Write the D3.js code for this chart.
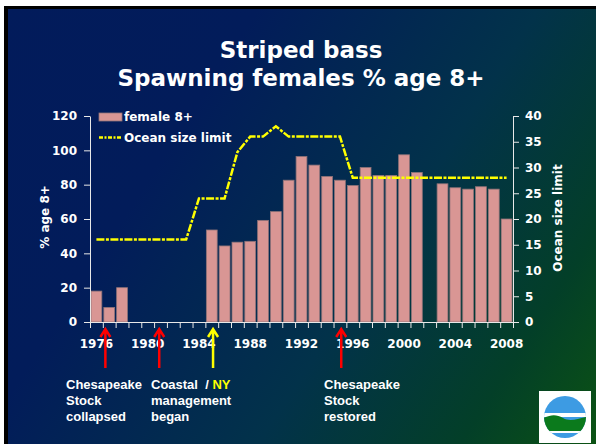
<!DOCTYPE html>
<html>
<head>
<meta charset="utf-8">
<script src="https://cdn.jsdelivr.net/npm/d3@7"></script>
<style>
  body { margin: 0; background: #fff; }
  svg { display: block; }
</style>
</head>
<body>
<div id="chart"></div>
<script>
// categories: one per year
var years = [1976, 1977, 1978, 1979, 1980, 1981, 1982, 1983, 1984, 1985, 1986,
             1987, 1988, 1989, 1990, 1991, 1992, 1993, 1994, 1995, 1996, 1997,
             1998, 1999, 2000, 2001, 2002, 2003, 2004, 2005, 2006, 2007, 2008];

// % of spawning females aged 8+ (null = no survey)
var female8 = [18, 8.5, 20, null, null, null, null, null, null, 53.6, 44.3,
               46.5, 47, 59.2, 64.3, 82.6, 96.4, 91.4, 84.8, 82.6, 79.5, 90,
               85.4, 85.4, 97.4, 87.1, null, 80.5, 78.2, 77.4, 78.8, 77.4, 60];

// ocean minimum size limit (inches)
var sizeLimit = [16, 16, 16, 16, 16, 16, 16, 16, 24, 24, 24,
                 33, 36, 36, 38, 36, 36, 36, 36, 36, 28, 28,
                 28, 28, 28, 28, 28, 28, 28, 28, 28, 28, 28];

var yearLabels = [1976, 1980, 1984, 1988, 1992, 1996, 2000, 2004, 2008];
var leftTicks = [0, 20, 40, 60, 80, 100, 120];
var rightTicks = [0, 5, 10, 15, 20, 25, 30, 35, 40];

// annotation arrows (fractional year position along the axis)
var arrowYears = [1977.2, 1981.4, 1985.6, 1995.6];
var arrowKinds = ["red", "red", "yellow", "red"];
var noteCollapsed = ["Chesapeake", "Stock", "collapsed"];
var noteCoastal = ["Coastal\u00a0\u00a0/ ", "management", "began"];
var noteRestored = ["Chesapeake", "Stock", "restored"];

(function () {
    var width = 596,
        height = 444;

    var svg = d3.select("#chart")
        .append("svg")
        .attr("width", width)
        .attr("height", height);

    var defs = svg.append("defs");
    var grad = defs.append("linearGradient")
        .attr("id", "bg")
        .attr("gradientUnits", "userSpaceOnUse")
        .attr("x1", 0).attr("y1", 0)
        .attr("x2", 620).attr("y2", 400);
    grad.append("stop").attr("offset", 0).attr("stop-color", "#021b5b");
    grad.append("stop").attr("offset", 0.3).attr("stop-color", "#021c5a");
    grad.append("stop").attr("offset", 0.62).attr("stop-color", "#02324a");
    grad.append("stop").attr("offset", 0.85).attr("stop-color", "#033f28");
    grad.append("stop").attr("offset", 1).attr("stop-color", "#0b5214");

    // slide frame
    svg.append("rect").attr("x", 4).attr("y", 6).attr("width", width - 4).attr("height", height - 6).attr("fill", "#000");
    svg.append("rect").attr("x", 8).attr("y", 9).attr("width", width - 8).attr("height", height - 9).attr("fill", "url(#bg)");

    // title
    var title = svg.append("text")
        .attr("text-anchor", "middle")
        .attr("fill", "#fff")
        .attr("font-family", "DejaVu Sans, sans-serif")
        .attr("font-weight", "bold")
        .attr("font-size", 23);
    title.append("tspan").attr("x", 301).attr("y", 58).text("Striped bass");
    title.append("tspan").attr("x", 301).attr("y", 86).text("Spawning females % age 8+");

    var pLeft = 90, pRight = 513, pTop = 116, pBottom = 322;

    var x = d3.scaleBand().domain(years).range([pLeft, pRight]).padding(0);
    var xLin = d3.scaleLinear().domain([1976, 2009]).range([pLeft, pRight]);
    var yL = d3.scaleLinear().domain([0, 120]).range([pBottom, pTop]);
    var yR = d3.scaleLinear().domain([0, 40]).range([pBottom, pTop]);

    var g = svg.append("g");

    var barData = years.map(function (yr, i) { return { year: yr, v: female8[i], s: sizeLimit[i] }; });

    // bars
    g.selectAll(".bar")
        .data(barData.filter(function (d) { return d.v != null; }))
        .enter().append("rect")
        .attr("class", "bar")
        .attr("x", function (d) { return x(d.year) + 1; })
        .attr("width", x.bandwidth() - 2)
        .attr("y", function (d) { return yL(d.v); })
        .attr("height", function (d) { return yL(0) - yL(d.v); })
        .attr("fill", "#d99694")
        .attr("stroke", "#8f7378")
        .attr("stroke-width", 0.8);

    // axes
    function styleAxis(sel) {
        sel.selectAll("path, line").attr("stroke", "#e8e8e8").attr("stroke-width", 1);
        sel.selectAll("text")
            .attr("fill", "#fff")
            .attr("font-family", "DejaVu Sans, sans-serif")
            .attr("font-weight", "bold")
            .attr("font-size", 12);
    }

    g.append("g")
        .attr("transform", "translate(" + pLeft + ",0)")
        .call(d3.axisLeft(yL).tickValues(leftTicks).tickSize(6).tickSizeOuter(0).tickPadding(7))
        .call(styleAxis);

    g.append("g")
        .attr("transform", "translate(" + pRight + ",0)")
        .call(d3.axisRight(yR).tickValues(rightTicks).tickSize(6).tickSizeOuter(0).tickPadding(6))
        .call(styleAxis);

    g.append("g")
        .attr("transform", "translate(0," + pBottom + ")")
        .call(d3.axisBottom(xLin).tickValues(years.concat([2009])).tickFormat("").tickSize(6).tickSizeOuter(0))
        .call(styleAxis);

    g.selectAll(".xlab")
        .data(yearLabels)
        .enter().append("text")
        .attr("class", "xlab")
        .attr("x", function (d) { return x(d) + x.bandwidth() / 2; })
        .attr("y", pBottom + 26)
        .attr("text-anchor", "middle")
        .attr("fill", "#fff")
        .attr("font-family", "DejaVu Sans, sans-serif")
        .attr("font-weight", "bold")
        .attr("font-size", 12)
        .text(function (d) { return d; });

    // axis titles
    svg.append("text")
        .attr("transform", "translate(49,217) rotate(-90)")
        .attr("text-anchor", "middle")
        .attr("fill", "#fff")
        .attr("font-family", "DejaVu Sans, sans-serif")
        .attr("font-weight", "bold")
        .attr("font-size", 12)
        .text("% age 8+");

    svg.append("text")
        .attr("transform", "translate(562,218) rotate(-90)")
        .attr("text-anchor", "middle")
        .attr("fill", "#fff")
        .attr("font-family", "DejaVu Sans, sans-serif")
        .attr("font-weight", "bold")
        .attr("font-size", 12)
        .text("Ocean size limit");

    // size limit line
    var line = d3.line()
        .x(function (d) { return x(d.year) + x.bandwidth() / 2; })
        .y(function (d) { return yR(d.s); });

    g.append("path")
        .datum(barData)
        .attr("d", line)
        .attr("fill", "none")
        .attr("stroke", "#ffff00")
        .attr("stroke-width", 2.5)
        .attr("stroke-dasharray", "8,1.5,3,1.5");

    // legend
    var leg = svg.append("g");
    leg.append("rect")
        .attr("x", 99).attr("y", 113).attr("width", 23).attr("height", 8)
        .attr("fill", "#d99694").attr("stroke", "#8f7378").attr("stroke-width", 0.8);
    leg.append("line")
        .attr("x1", 99).attr("x2", 122).attr("y1", 137.5).attr("y2", 137.5)
        .attr("stroke", "#ffff00").attr("stroke-width", 2.5)
        .attr("stroke-dasharray", "4,1.5,2,1.5");
    leg.selectAll("text")
        .data(["female 8+", "Ocean size limit"])
        .enter().append("text")
        .attr("x", 124)
        .attr("y", function (d, i) { return 121 + i * 21; })
        .attr("fill", "#fff")
        .attr("font-family", "DejaVu Sans, sans-serif")
        .attr("font-weight", "bold")
        .attr("font-size", 12)
        .text(function (d) { return d; });

    // arrows
    var arrowColor = { red: "#ff0000", yellow: "#ffff00" };
    svg.selectAll(".arrow")
        .data(arrowYears)
        .enter().append("path")
        .attr("class", "arrow")
        .attr("d", function (d) {
            var ax = xLin(d), tip = 329, end = 368;
            return "M" + ax + "," + end + "V" + tip +
                "M" + (ax - 5) + "," + (tip + 8) + "L" + ax + "," + tip + "L" + (ax + 5) + "," + (tip + 8);
        })
        .attr("fill", "none")
        .attr("stroke", function (d, i) { return arrowColor[arrowKinds[i]]; })
        .attr("stroke-width", 2.5);

    // notes
    function note(lines, nx) {
        var t = svg.append("text")
            .attr("fill", "#fff")
            .attr("font-family", "Liberation Sans, Arial, sans-serif")
            .attr("font-weight", "bold")
            .attr("font-size", 13);
        lines.forEach(function (l, i) {
            t.append("tspan").attr("x", nx).attr("y", 389 + i * 16).text(l);
        });
        return t;
    }
    note(noteCollapsed, 66);
    var coastal = note(noteCoastal, 151);
    coastal.select("tspan").append("tspan").attr("fill", "#ffff00").text("NY");
    note(noteRestored, 324);

    // logo
    var logo = svg.append("g");
    logo.append("rect").attr("x", 539).attr("y", 391).attr("width", 52).attr("height", 52).attr("fill", "#fff");
    defs.append("clipPath").attr("id", "disc")
        .append("circle").attr("cx", 565).attr("cy", 417).attr("r", 21);
    var disc = logo.append("g").attr("clip-path", "url(#disc)");
    disc.append("rect").attr("x", 540).attr("y", 392).attr("width", 50).attr("height", 50).attr("fill", "#3d9be3");
    disc.append("rect").attr("x", 540).attr("y", 413).attr("width", 50).attr("height", 4).attr("fill", "#fff");
    disc.append("path")
        .attr("d", "M540,420 C550,414 556,414 563,418 C570,422 578,419 590,416 L590,431 L540,431 Z")
        .attr("fill", "#0b7a1c");
    disc.append("rect").attr("x", 540).attr("y", 431).attr("width", 50).attr("height", 2).attr("fill", "#fff");
})();
</script>
</body>
</html>
